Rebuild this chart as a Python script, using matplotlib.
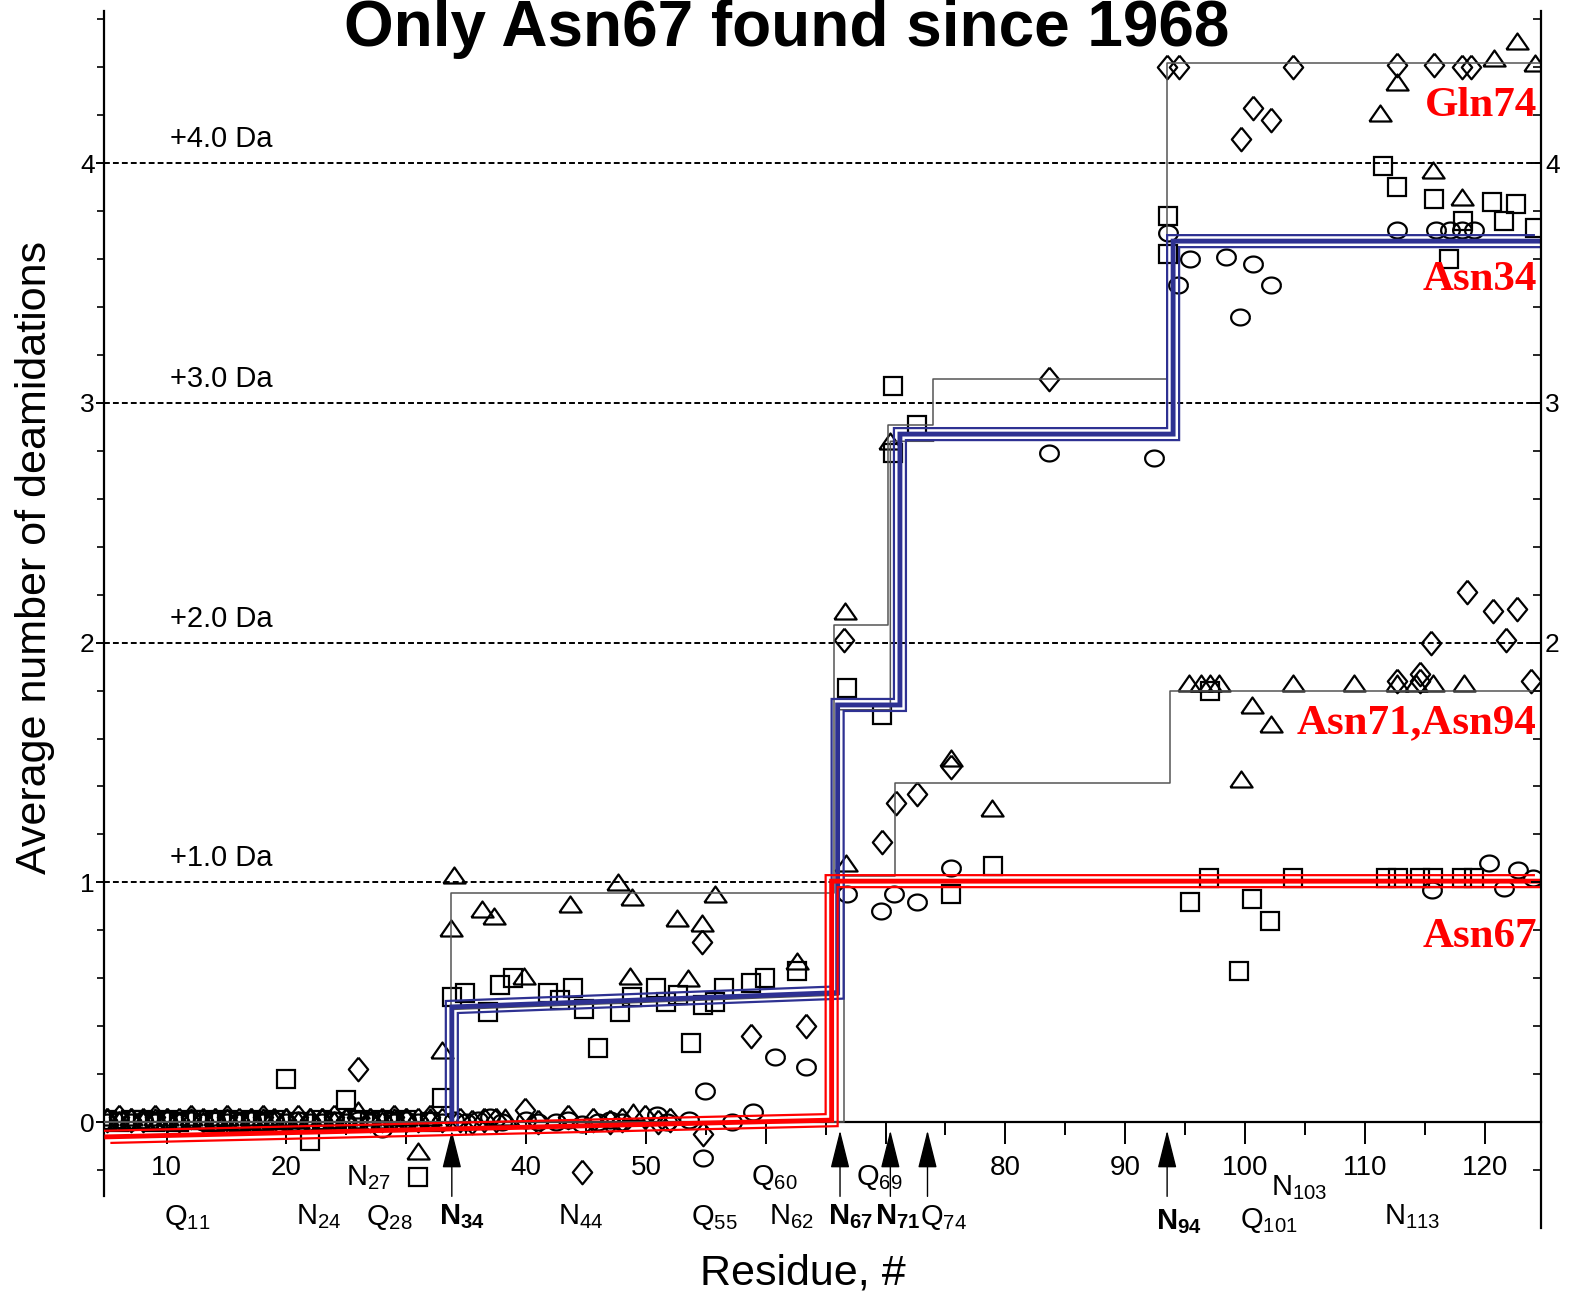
import numpy as np
import matplotlib
matplotlib.use("Agg")
import matplotlib.pyplot as plt
from matplotlib import transforms
from matplotlib.ticker import FixedLocator

# ---- data (residue #, average number of deamidations) ----
band_res = [5, 6, 7, 8, 9, 10, 11, 12, 13, 14, 15, 16, 17, 18, 19, 20, 21, 22, 23,
            24, 25, 26, 27, 28, 29, 30, 31, 32, 33]
circle_band = [0.00, 0.01, 0.00, 0.01, 0.00, 0.01, 0.00, 0.01, 0.00, 0.01, 0.00, 0.00,
               0.01, 0.00, 0.01, 0.00, 0.01, 0.00, 0.00, 0.01, 0.00, 0.01, 0.00, -0.03,
               0.00, 0.01, 0.00, 0.01, 0.00]
square_band = [0.01, 0.00, 0.01, 0.01, 0.00, 0.01, 0.00, 0.01, 0.01, 0.00, 0.01, 0.00,
               0.01, 0.00, 0.01, 0.18, 0.00, -0.08, 0.01, 0.00, 0.09, 0.01, 0.00, 0.01,
               0.00, 0.01, -0.23, 0.00, 0.10]
triangle_band = [0.02, 0.01, 0.02, 0.01, 0.02, 0.02, 0.01, 0.02, 0.01, 0.02, 0.02, 0.01,
                 0.02, 0.02, 0.01, 0.02, 0.01, 0.02, 0.02, 0.01, 0.02, 0.05, 0.02, 0.01,
                 0.02, 0.02, -0.12, 0.02, 0.30]
diamond_band = [0.01, 0.02, 0.01, 0.01, 0.02, 0.01, 0.01, 0.02, 0.01, 0.01, 0.02, 0.01,
                0.01, 0.02, 0.01, 0.01, 0.02, 0.01, 0.01, 0.02, 0.01, 0.22, 0.01, 0.01,
                0.02, 0.01, 0.01, 0.02, 0.01]

circle_res = [34, 35, 36, 37, 38, 40, 41, 42.5, 43.5, 44.7, 46, 47, 48, 50.9, 51.8, 53.6,
              54.8, 54.9, 57.2, 58.9, 60.8, 63.4, 66.8, 69.6, 70.7, 72.6, 75.5, 83.6,
              92.4, 93.6, 94.4, 95.4, 98.4, 99.6, 100.7, 102.2, 112.7, 115.9, 117.1,
              118.1, 119.1, 115.6, 120.4, 121.6, 122.8, 124.0]
circle_val = [0.01, 0.00, 0.01, 0.02, 0.00, 0.01, 0.00, 0.00, 0.01, -0.01, 0.00, 0.01,
              0.00, 0.03, 0.00, 0.01, -0.15, 0.13, 0.00, 0.04, 0.27, 0.23, 0.95, 0.88,
              0.95, 0.92, 1.06, 2.79, 2.77, 3.71, 3.49, 3.60, 3.61, 3.36, 3.58, 3.49,
              3.72, 3.72, 3.72, 3.72, 3.72, 0.97, 1.08, 0.975, 1.05, 1.02]

square_res = [33.8, 34.9, 36.8, 37.8, 38.9, 41.8, 42.8, 43.9, 44.8, 46.0, 47.8, 48.8,
              50.8, 51.7, 52.7, 53.8, 54.8, 55.8, 56.5, 58.8, 59.9, 62.6, 66.8, 69.7,
              70.6, 72.6, 70.6, 75.5, 79.0, 93.6, 93.6, 95.4, 97.0, 97.1, 99.5, 100.6,
              102.1, 104.0, 111.5, 112.7, 115.8, 117.0, 118.2, 120.6, 121.6, 122.6,
              124.2, 111.8, 112.8, 114.6, 115.7, 118.1, 119.1]
square_val = [0.52, 0.54, 0.46, 0.57, 0.60, 0.54, 0.51, 0.56, 0.47, 0.31, 0.46, 0.52,
              0.56, 0.50, 0.53, 0.33, 0.49, 0.50, 0.56, 0.58, 0.60, 0.63, 1.81, 1.70,
              3.07, 2.91, 2.79, 0.95, 1.07, 3.78, 3.62, 0.92, 1.02, 1.80, 0.63, 0.93,
              0.84, 1.02, 3.99, 3.90, 3.85, 3.60, 3.76, 3.84, 3.76, 3.83, 3.73, 1.02,
              1.02, 1.02, 1.02, 1.02, 1.02]

triangle_res = [33.7, 34.0, 36.3, 37.3, 43.7, 47.7, 48.8, 52.6, 54.7, 55.8, 39.8, 48.7,
                53.5, 62.6, 38.2, 48.9, 66.6, 66.7, 75.5, 78.9, 70.4, 95.3, 96.3, 97.1,
                97.8, 99.7, 100.6, 102.2, 104.0, 109.1, 111.3, 112.7, 112.7, 114.3,
                115.7, 115.7, 118.1, 118.3, 120.8, 122.7, 124.2]
triangle_val = [0.81, 1.03, 0.89, 0.86, 0.91, 1.00, 0.94, 0.85, 0.83, 0.95, 0.61, 0.61,
                0.60, 0.67, 0.02, 0.04, 2.13, 1.08, 1.52, 1.31, 2.84, 1.83, 1.83, 1.83,
                1.83, 1.43, 1.74, 1.66, 1.83, 1.83, 4.21, 4.34, 1.83, 1.83, 1.83, 3.97,
                3.86, 1.83, 4.44, 4.51, 4.42]

diamond_res = [34.5, 35.5, 36.5, 37.5, 39.9, 41.0, 43.5, 45.6, 47.0, 48.0, 49.9, 51.0,
               52.0, 44.7, 54.8, 54.7, 58.8, 63.4, 66.5, 69.7, 70.9, 72.6, 75.5, 83.6,
               93.5, 94.5, 99.7, 100.7, 102.2, 104.0, 112.7, 115.8, 118.1, 118.9, 118.5,
               120.7, 122.7, 115.5, 121.8, 112.7, 114.6, 114.6, 123.9]
diamond_val = [0.01, 0.00, 0.01, 0.01, 0.05, 0.00, 0.02, 0.01, 0.00, 0.01, 0.02, 0.00,
               0.01, -0.21, -0.05, 0.75, 0.36, 0.40, 2.01, 1.17, 1.33, 1.37, 1.48, 3.10,
               4.40, 4.40, 4.10, 4.23, 4.18, 4.40, 4.41, 4.41, 4.40, 4.40, 2.21, 2.13,
               2.14, 2.00, 2.01, 1.84, 1.87, 1.84, 1.84]

# step fits
grayA_x = [4.8, 33.7, 33.7, 65.7, 65.7, 70.2, 70.2, 74.0, 74.0, 93.5, 93.5, 124.7]
grayA_y = [0.0, 0.0, 0.955, 0.955, 2.075, 2.075, 2.91, 2.91, 3.10, 3.10, 4.42, 4.42]
grayB_x = [4.8, 66.5, 66.5, 70.8, 70.8, 93.7, 93.7, 124.7]
grayB_y = [0.0, 0.0, 1.025, 1.025, 1.415, 1.415, 1.80, 1.80]
grayC_x = [33.9, 33.9, 66.1, 66.1, 70.4, 70.4, 74.0]
grayC_y = [0.0, 0.47, 0.53, 1.72, 1.72, 2.84, 2.84]
blue_x = [33.8, 33.8, 66.0, 66.0, 71.2, 71.2, 94.0, 94.0, 124.7]
blue_y = [0.0, 0.48, 0.54, 1.74, 1.74, 2.87, 2.87, 3.675, 3.675]
red_x = [4.8, 65.5, 65.5, 124.7]
red_y = [-0.062, 0.008, 1.005, 1.005]

levels = [1, 2, 3, 4]
level_labels = ["+1.0 Da", "+2.0 Da", "+3.0 Da", "+4.0 Da"]
arrow_res = [33.8, 66.2, 70.4, 73.5, 93.5]

xtick_pos = [10, 20, 30, 40, 50, 60, 70, 80, 90, 100, 110, 120]
xtick_lab = ["10", "20", "", "40", "50", "", "", "80", "90", "100", "110", "120"]
ytick_pos = [0, 1, 2, 3, 4]
ytick_lab = ["0", "1", "2", "3", "4"]
ytick_lab_right = ["", "", "2", "3", "4"]

# residue labels: (text, x, baseline y)
res_labels = [
    (r"$\mathrm{N_{27}}$", 25.0, -0.262), (r"$\mathrm{Q_{60}}$", 58.8, -0.262),
    (r"$\mathrm{Q_{69}}$", 67.5, -0.262), (r"$\mathrm{N_{103}}$", 102.2, -0.305),
    (r"$\mathrm{Q_{11}}$", 9.8, -0.428), (r"$\mathrm{N_{24}}$", 20.8, -0.428),
    (r"$\mathrm{Q_{28}}$", 26.65, -0.428), (r"$\mathbf{N_{34}}$", 32.7, -0.428),
    (r"$\mathrm{N_{44}}$", 42.7, -0.428), (r"$\mathrm{Q_{55}}$", 53.8, -0.428),
    (r"$\mathrm{N_{62}}$", 60.3, -0.428), (r"$\mathbf{N_{67}}$", 65.2, -0.428),
    (r"$\mathbf{N_{71}}$", 69.1, -0.428), (r"$\mathrm{Q_{74}}$", 72.9, -0.428),
    (r"$\mathbf{N_{94}}$", 92.6, -0.448), (r"$\mathrm{Q_{101}}$", 99.55, -0.444),
    (r"$\mathrm{N_{113}}$", 111.6, -0.428),
]

red_labels = [("Gln74", 4.197), ("Asn34", 3.471), ("Asn71,Asn94", 1.622), ("Asn67", 0.731)]


def triple_line(ax, fig, xs, ys, color):
    # three parallel strokes, thin / thick / thin, shifted along the diagonal
    for d, lw in ((-6, 1.6), (0, 3.5), (6, 1.6)):
        tr = transforms.offset_copy(ax.transData, fig=fig, x=d, y=-d, units="dots")
        ax.plot(xs, ys, color=color, lw=lw, transform=tr, zorder=4,
                solid_joinstyle="miter", solid_capstyle="butt")


def main():
    plt.rcParams["font.family"] = "Liberation Sans"
    plt.rcParams["mathtext.fontset"] = "custom"
    plt.rcParams["mathtext.rm"] = "Liberation Sans"
    plt.rcParams["mathtext.bf"] = "Liberation Sans:bold"
    plt.rcParams["mathtext.it"] = "Liberation Sans:italic"

    fig = plt.figure(figsize=(15.74, 12.95), dpi=100)
    ax = fig.add_axes([0.0663, 0.0521, 0.9127, 0.9394])
    ax.set_xlim(4.8, 124.7)
    ax.set_ylim(-0.44, 4.635)

    # marker shapes (flattened like the original artwork)
    t = np.linspace(0, 2 * np.pi, 40)
    ellipse = list(zip(np.cos(t), 0.85 * np.sin(t)))
    tri = [(-1, -0.72), (1, -0.72), (0, 0.72), (-1, -0.72)]
    dia = [(0, 1), (0.82, 0), (0, -1), (-0.82, 0), (0, 1)]
    mk = dict(ls="none", mfc="none", mec="black", mew=1.6, zorder=2)

    ax.plot(band_res + circle_res, circle_band + circle_val, marker=ellipse, ms=13.5, **mk)
    ax.plot(band_res + square_res, square_band + square_val, marker="s", ms=13, **mk)
    ax.plot(band_res + triangle_res, triangle_band + triangle_val, marker=tri, ms=16, **mk)
    ax.plot(band_res + diamond_res, diamond_band + diamond_val, marker=dia, ms=17, **mk)

    for lvl, lab in zip(levels, level_labels):
        ax.axhline(lvl, color="black", lw=1.4, ls=(0, (3, 1.6)), zorder=1)
        ax.text(10.3, lvl + 0.067, lab, fontsize=21, ha="left", va="baseline")

    for xs, ys in ((grayA_x, grayA_y), (grayB_x, grayB_y), (grayC_x, grayC_y)):
        ax.plot(xs, ys, color="#555555", lw=1.1, zorder=3)
    triple_line(ax, fig, blue_x, blue_y, "#2E3192")
    triple_line(ax, fig, red_x, red_y, "#FF0000")

    for lab, yv in red_labels:
        ax.text(124.35, yv, lab, color="#FF0000", fontsize=31, fontweight="bold",
                family="Liberation Serif", ha="right", va="baseline", zorder=5)

    # axes styling
    ax.spines["top"].set_visible(False)
    ax.spines["right"].set_visible(False)
    ax.spines["bottom"].set_position(("data", 0))
    ax.spines["left"].set_bounds(-0.31, 4.635)
    for s in ("left", "bottom"):
        ax.spines[s].set_linewidth(1.6)

    ax.xaxis.set_major_locator(FixedLocator(xtick_pos))
    ax.set_xticklabels(xtick_lab)
    ax.xaxis.set_minor_locator(FixedLocator(list(range(15, 120, 10))))
    ax.tick_params(axis="x", which="major", direction="out", length=16, width=1.4,
                   pad=8, labelsize=20)
    ax.tick_params(axis="x", which="minor", direction="out", length=9.5, width=1.4)

    ax.yaxis.set_major_locator(FixedLocator(ytick_pos))
    ax.set_yticklabels(ytick_lab)
    yminor = np.round(np.arange(-0.2, 4.61, 0.2), 2)
    ax.yaxis.set_minor_locator(FixedLocator(yminor))
    ax.tick_params(axis="y", which="major", direction="out", length=6, width=1.4,
                   pad=1, labelsize=19)
    ax.tick_params(axis="y", which="minor", direction="out", length=5, width=1.2)

    ax2 = ax.twinx()
    ax2.set_ylim(ax.get_ylim())
    for s in ("left", "top", "bottom"):
        ax2.spines[s].set_visible(False)
    ax2.spines["right"].set_linewidth(1.6)
    ax2.yaxis.set_major_locator(FixedLocator(ytick_pos))
    ax2.set_yticklabels(ytick_lab_right)
    ax2.yaxis.set_minor_locator(FixedLocator(yminor))
    ax2.tick_params(axis="y", which="major", direction="in", length=7, width=1.4,
                    pad=3, labelsize=19)
    ax2.tick_params(axis="y", which="minor", direction="in", length=6, width=1.2)

    # arrows under the axis at the deamidation sites
    for r in arrow_res:
        ax.annotate("", xy=(r, -0.035), xytext=(r, -0.31),
                    arrowprops=dict(arrowstyle="-|>,head_length=1.2,head_width=0.3",
                                    mutation_scale=20, color="black", lw=1.0,
                                    shrinkA=0, shrinkB=0),
                    annotation_clip=False)

    for txt, xr, yv in res_labels:
        ax.text(xr, yv, txt, fontsize=21, ha="left", va="baseline")

    fig.text(0.5, 1 - 46 / 1295, "Only Asn67 found since 1968", fontsize=46,
             fontweight="bold", ha="center", va="baseline")
    fig.text(35 / 1574, 1 - 557 / 1295, "Average number of deamidations", fontsize=31,
             rotation=90, ha="center", va="center")
    fig.text(803 / 1574, 1 - 1285 / 1295, "Residue, #", fontsize=31,
             ha="center", va="baseline")

    fig.savefig("out.png", dpi=100)


if __name__ == "__main__":
    main()
